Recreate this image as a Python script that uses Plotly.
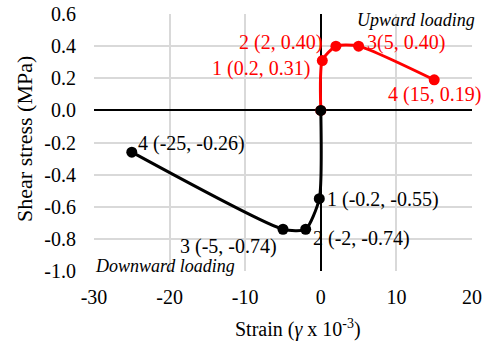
import plotly.graph_objects as go

# Upward loading (red)
up_x = [0, 0.2, 2, 5, 15]
up_y = [0, 0.31, 0.40, 0.40, 0.19]
up_labels = ["", "1 (0.2, 0.31)", "2 (2, 0.40)", "3(5, 0.40)", "4 (15, 0.19)"]

# Downward loading (black)
down_x = [0, -0.2, -2, -5, -25]
down_y = [0, -0.55, -0.74, -0.74, -0.26]
down_labels = ["", "1 (-0.2, -0.55)", "2 (-2, -0.74)", "3 (-5, -0.74)", "4 (-25, -0.26)"]

x_ticks = [-30, -20, -10, 0, 10, 20]
y_ticks = [-1.0, -0.8, -0.6, -0.4, -0.2, 0.0, 0.2, 0.4, 0.6]

FONT = "Liberation Serif, Times New Roman, serif"
RED = "#ff0000"
BLACK = "#000000"

fig = go.Figure()
fig.add_trace(go.Scatter(x=up_x, y=up_y, mode="lines+markers",
                         line=dict(color=RED, width=3, shape="spline", smoothing=0.6),
                         marker=dict(color=RED, size=11), showlegend=False))
fig.add_trace(go.Scatter(x=down_x, y=down_y, mode="lines+markers",
                         line=dict(color=BLACK, width=3, shape="spline", smoothing=0.6),
                         marker=dict(color=BLACK, size=11), showlegend=False))

# label placement: (xanchor, xshift, yshift)
up_pos = [None, ("right", -11, -8), ("right", -13, 4), ("left", 7, 4), ("center", 0, -15)]
down_pos = [None, ("left", 7, -1), ("left", 6, -9), ("right", -5, -17), ("left", 5, 9)]

for xs, ys, labs, pos, col in [(up_x, up_y, up_labels, up_pos, RED),
                               (down_x, down_y, down_labels, down_pos, BLACK)]:
    for xv, yv, lab, p in zip(xs, ys, labs, pos):
        if not lab:
            continue
        fig.add_annotation(x=xv, y=yv, text=lab, showarrow=False,
                           xanchor=p[0], yanchor="middle", xshift=p[1], yshift=p[2],
                           borderpad=0, font=dict(family=FONT, size=20, color=col))

fig.add_annotation(x=20, y=0.6, xref="x", yref="y", text="<i>Upward loading</i>",
                   showarrow=False, xanchor="right", yanchor="middle", xshift=4, yshift=-6,
                   borderpad=0, font=dict(family=FONT, size=18, color=BLACK))
fig.add_annotation(x=-30, y=-1.0, xref="x", yref="y", text="<i>Downward loading</i>",
                   showarrow=False, xanchor="left", yanchor="middle", xshift=0, yshift=5,
                   borderpad=0, font=dict(family=FONT, size=18, color=BLACK))

# axis titles
fig.add_annotation(x=0.54, y=0, xref="paper", yref="paper",
                   text="Strain (<i>γ</i> x 10<sup>-3</sup>)", showarrow=False,
                   xanchor="center", yanchor="middle", yshift=-57, borderpad=0,
                   font=dict(family=FONT, size=20, color=BLACK))
fig.add_annotation(x=0, y=0.514, xref="paper", yref="paper",
                   text="Shear stress (MPa)", showarrow=False, textangle=-90,
                   xanchor="center", yanchor="middle", xshift=-69, borderpad=0,
                   font=dict(family=FONT, size=22, color=BLACK))

fig.update_layout(
    width=486, height=342,
    margin=dict(l=94, r=14, t=14, b=71, autoexpand=False),
    paper_bgcolor="white", plot_bgcolor="white",
    font=dict(family=FONT, size=20, color=BLACK),
    hovermode=False,
)
fig.update_xaxes(range=[-30, 20], tickvals=x_ticks, ticktext=[str(v) for v in x_ticks],
                 showgrid=True, gridcolor="#d9d9d9", gridwidth=1.5,
                 zeroline=True, zerolinecolor=BLACK, zerolinewidth=1.5,
                 showline=False, ticks="", ticklabelstandoff=12, automargin=False,
                 ticklabeloverflow="allow",
                 tickfont=dict(family=FONT, size=20))
fig.update_yaxes(range=[-1.0, 0.6], tickvals=y_ticks, ticktext=[f"{v:.1f}" for v in y_ticks],
                 showgrid=True, gridcolor="#d9d9d9", gridwidth=1.5,
                 zeroline=True, zerolinecolor=BLACK, zerolinewidth=1.5,
                 showline=False, ticks="", ticklabelstandoff=17, automargin=False,
                 ticklabeloverflow="allow",
                 tickfont=dict(family=FONT, size=20))

fig.write_html("out.html", config={"displayModeBar": False},
               post_script="document.body.style.margin='0';document.body.style.overflow='hidden';")
